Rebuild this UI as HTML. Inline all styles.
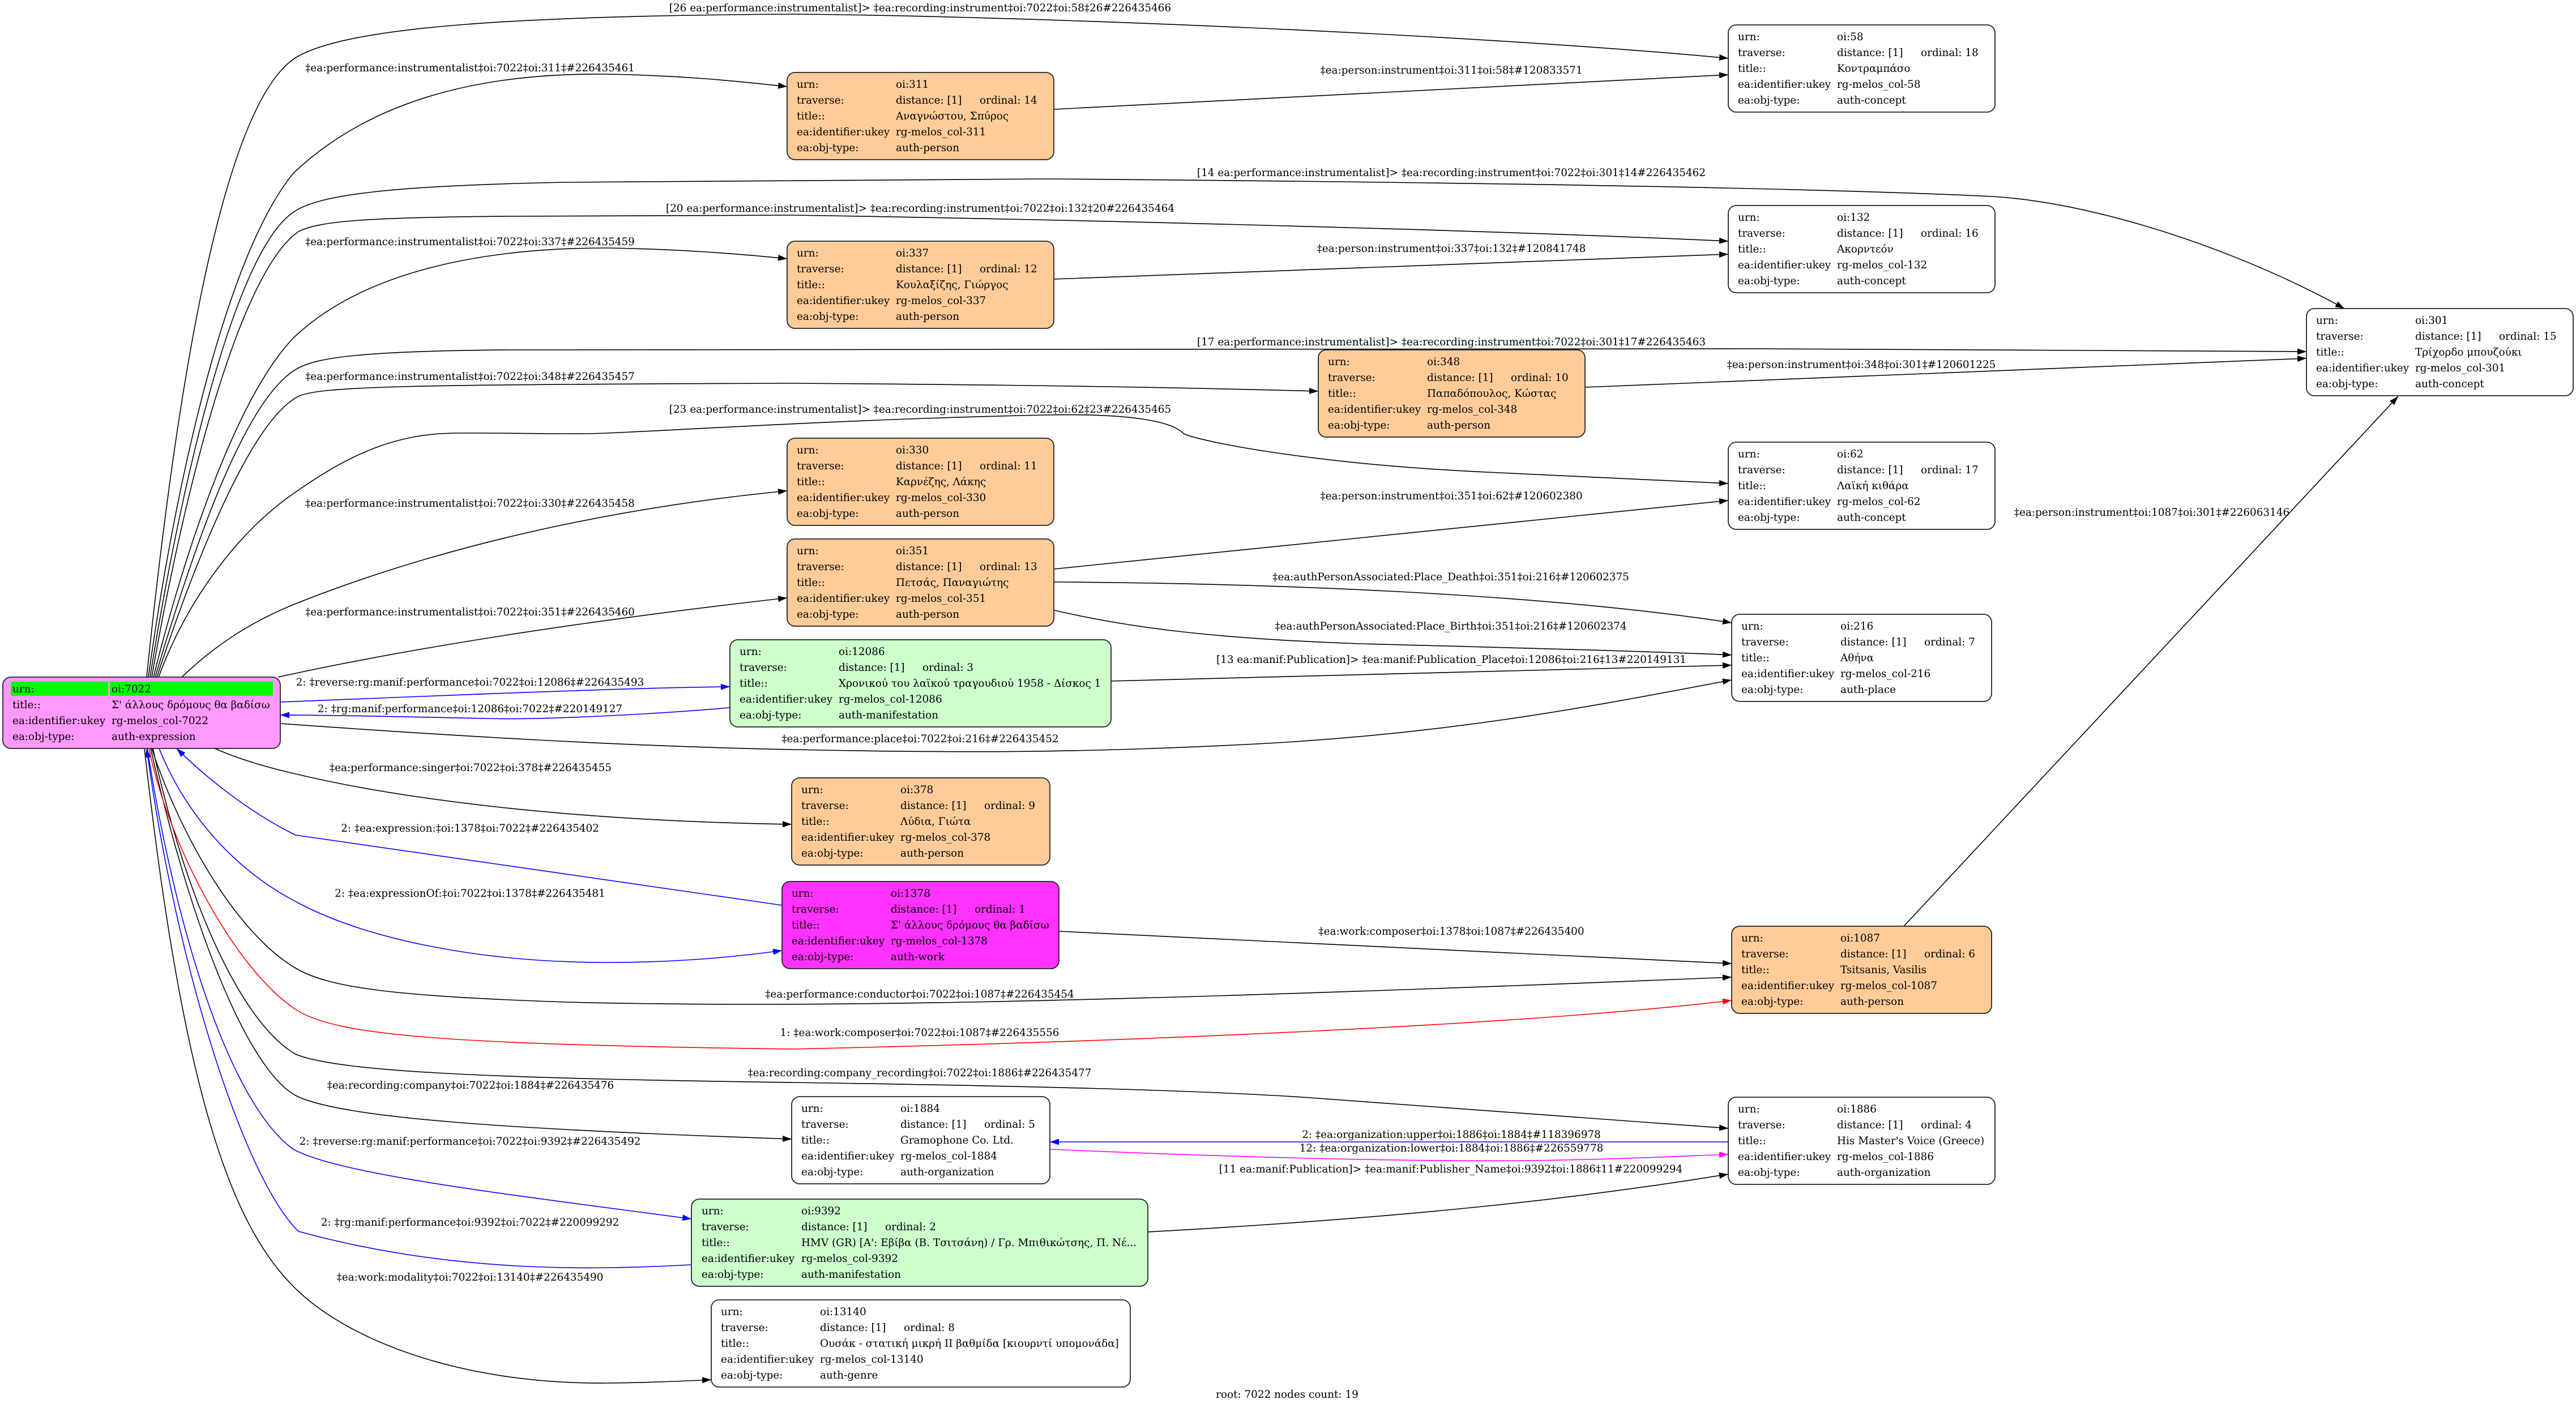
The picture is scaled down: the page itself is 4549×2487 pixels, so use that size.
<!DOCTYPE html>
<html>
<head>
<meta charset="utf-8">
<style>
html,body{margin:0;padding:0;background:#fff;}
svg{display:block;}
text{font-family:"DejaVu Serif","Liberation Serif","Noto Serif CJK SC",serif;font-size:18.4px;fill:#000;}
.el{text-anchor:middle;}
.e{fill:none;stroke:#000;stroke-width:1.6;}
.b{stroke:#0000ff;}
.r{stroke:#ff0000;}
.m{stroke:#ff00ff;}
.n{stroke:#222;stroke-width:1.8;}
</style>
</head>
<body>
<svg width="4549" height="2487" viewBox="0 0 4549 2487" xmlns="http://www.w3.org/2000/svg">
<defs>
<marker id="ak" markerWidth="17" markerHeight="12" refX="16" refY="6" orient="auto" markerUnits="userSpaceOnUse"><path d="M0,0.5 L16,6 L0,11.5 z" fill="#000"/></marker>
<marker id="ab" markerWidth="17" markerHeight="12" refX="16" refY="6" orient="auto" markerUnits="userSpaceOnUse"><path d="M0,0.5 L16,6 L0,11.5 z" fill="#0000ff"/></marker>
<marker id="ar" markerWidth="17" markerHeight="12" refX="16" refY="6" orient="auto" markerUnits="userSpaceOnUse"><path d="M0,0.5 L16,6 L0,11.5 z" fill="#ff0000"/></marker>
<marker id="am" markerWidth="17" markerHeight="12" refX="16" refY="6" orient="auto" markerUnits="userSpaceOnUse"><path d="M0,0.5 L16,6 L0,11.5 z" fill="#ff00ff"/></marker>
</defs>
<rect x="0" y="0" width="4549" height="2487" fill="#fff"/>

<!-- Edges: black -->
<g class="e" marker-end="url(#ak)">
<path class="e" d="M259,1196 C300,800 380,180 527,99 C620,48 900,28 1400,25 C1800,28 2600,60 3052,103"/>
<path class="e" d="M262,1196 C310,850 400,450 518,306 C640,190 820,128 1071,131 C1200,133 1300,143 1390,153"/>
<path class="e" d="M265,1196 C325,820 420,440 518,375 C560,345 680,328 1000,322 L1850,316 C2600,322 3200,332 3518,347 C3700,358 3950,440 4140,545"/>
<path class="e" d="M268,1196 C328,850 425,480 527,409 C565,390 650,384 900,382 L1400,380 C1850,387 2600,405 3052,426"/>
<path class="e" d="M271,1196 C330,960 420,700 518,597 C640,480 850,438 1071,438 C1200,440 1300,448 1390,457"/>
<path class="e" d="M274,1196 C335,990 430,700 527,650 C565,630 650,620 900,618 L3100,616 L4073,621"/>
<path class="e" d="M277,1196 C338,1010 440,745 527,700 C565,683 700,679 1400,677 C1850,680 2100,685 2328,691"/>
<path class="e" d="M280,1196 C330,1060 420,940 518,872 C620,800 700,766 804,765 C900,764 1000,768 1071,765 C1200,760 1500,740 1850,733 C2000,730 2070,745 2089,765 C2100,775 2300,820 2647,835 C2800,843 2950,850 3052,854"/>
<path class="e" d="M321,1196 C380,1140 440,1100 518,1068 C750,975 1050,900 1390,867"/>
<path class="e" d="M491,1196 C700,1150 1000,1100 1390,1056"/>
<path class="e" d="M1862,193 L3052,132"/>
<path class="e" d="M1862,493 L3052,449"/>
<path class="e" d="M2799,684 C3000,676 3500,656 4073,633"/>
<path class="e" d="M1862,1005 L3052,884"/>
<path class="e" d="M1862,1028 C2200,1030 2700,1045 3058,1100"/>
<path class="e" d="M1862,1078 C2000,1110 2150,1128 2400,1137 C2700,1145 2900,1150 3058,1157"/>
<path class="e" d="M1962,1203 L3058,1175"/>
<path class="e" d="M495,1278 C800,1300 1100,1318 1400,1324 C1700,1330 1900,1330 2200,1315 C2550,1298 2800,1250 3058,1201"/>
<path class="e" d="M1870,1645 L3058,1702"/>
<path class="e" d="M268,1322 C320,1480 420,1650 522,1710 C580,1745 700,1760 1000,1770 C1400,1780 1900,1773 3058,1726"/>
<path class="e" d="M270,1322 C330,1600 430,1810 522,1862 C600,1895 900,1905 1400,1912 C1800,1918 2100,1925 2300,1938 C2600,1960 2850,1980 3052,1993"/>
<path class="e" d="M266,1322 C340,1650 440,1890 522,1935 C600,1975 900,1995 1398,2012"/>
<path class="e" d="M255,1322 C320,1900 400,2150 513,2267 C600,2360 800,2445 1071,2443 C1150,2442 1200,2440 1256,2437"/>
<path class="e" d="M379,1322 C420,1340 470,1355 518,1366 C700,1410 1000,1450 1398,1456"/>
<path class="e" d="M2027,2176 C2500,2150 2800,2115 3052,2074"/>
<path class="e" d="M3361,1637 L4235,700"/>
</g>
<!-- Edges: blue -->
<g>
<path class="e b" marker-end="url(#ab)" d="M495,1240 C800,1228 1100,1215 1289,1213"/>
<path class="e b" marker-end="url(#ab)" d="M1289,1250 C1150,1262 950,1272 858,1269 C700,1266 600,1263 495,1263"/>
<path class="e b" marker-end="url(#ab)" d="M3052,2017 L1854,2017"/>
<path class="e b" marker-end="url(#ab)" d="M260,1322 C320,1700 420,1960 518,2030 C600,2075 900,2110 1221,2153"/>
<path class="e b" marker-end="url(#ab)" d="M1221,2234 C1050,2243 800,2250 527,2175 C430,2080 310,1700 259,1322"/>
<path class="e b" marker-end="url(#ab)" d="M1381,1599 L522,1475 C450,1440 370,1380 312,1322"/>
<path class="e b" marker-end="url(#ab)" d="M281,1322 C320,1420 400,1530 527,1595 C650,1660 850,1700 1071,1700 C1200,1700 1300,1690 1381,1679"/>
<path class="e r" marker-end="url(#ar)" d="M263,1322 C300,1500 420,1720 527,1786 C600,1830 800,1845 1400,1853 C2000,1840 2700,1810 3058,1767"/>
<path class="e m" marker-end="url(#am)" d="M1854,2030 C2200,2045 2500,2052 2700,2050 C2850,2048 2950,2043 3052,2039"/>
</g>

<!-- Edge labels -->
<g class="el">
<text class="el" x="1625" y="20">[26 ea:performance:instrumentalist]&gt; ‡ea:recording:instrument‡oi:7022‡oi:58‡26#226435466</text>
<text class="el" x="830" y="126">‡ea:performance:instrumentalist‡oi:7022‡oi:311‡#226435461</text>
<text class="el" x="2563" y="130">‡ea:person:instrument‡oi:311‡oi:58‡#120833571</text>
<text class="el" x="2563" y="311">[14 ea:performance:instrumentalist]&gt; ‡ea:recording:instrument‡oi:7022‡oi:301‡14#226435462</text>
<text class="el" x="1625" y="374">[20 ea:performance:instrumentalist]&gt; ‡ea:recording:instrument‡oi:7022‡oi:132‡20#226435464</text>
<text class="el" x="830" y="433">‡ea:performance:instrumentalist‡oi:7022‡oi:337‡#226435459</text>
<text class="el" x="2563" y="445">‡ea:person:instrument‡oi:337‡oi:132‡#120841748</text>
<text class="el" x="2563" y="610">[17 ea:performance:instrumentalist]&gt; ‡ea:recording:instrument‡oi:7022‡oi:301‡17#226435463</text>
<text class="el" x="3287" y="650">‡ea:person:instrument‡oi:348‡oi:301‡#120601225</text>
<text class="el" x="830" y="671">‡ea:performance:instrumentalist‡oi:7022‡oi:348‡#226435457</text>
<text class="el" x="1625" y="729">[23 ea:performance:instrumentalist]&gt; ‡ea:recording:instrument‡oi:7022‡oi:62‡23#226435465</text>
<text class="el" x="2563" y="882">‡ea:person:instrument‡oi:351‡oi:62‡#120602380</text>
<text class="el" x="830" y="895">‡ea:performance:instrumentalist‡oi:7022‡oi:330‡#226435458</text>
<text class="el" x="3800" y="911">‡ea:person:instrument‡oi:1087‡oi:301‡#226063146</text>
<text class="el" x="2562" y="1025">‡ea:authPersonAssociated:Place_Death‡oi:351‡oi:216‡#120602375</text>
<text class="el" x="830" y="1087">‡ea:performance:instrumentalist‡oi:7022‡oi:351‡#226435460</text>
<text class="el" x="2562" y="1112">‡ea:authPersonAssociated:Place_Birth‡oi:351‡oi:216‡#120602374</text>
<text class="el" x="2563" y="1171">[13 ea:manif:Publication]&gt; ‡ea:manif:Publication_Place‡oi:12086‡oi:216‡13#220149131</text>
<text class="el" x="830" y="1211">2: ‡reverse:rg:manif:performance‡oi:7022‡oi:12086‡#226435493</text>
<text class="el" x="830" y="1258">2: ‡rg:manif:performance‡oi:12086‡oi:7022‡#220149127</text>
<text class="el" x="1625" y="1311">‡ea:performance:place‡oi:7022‡oi:216‡#226435452</text>
<text class="el" x="831" y="1362">‡ea:performance:singer‡oi:7022‡oi:378‡#226435455</text>
<text class="el" x="830" y="1469">2: ‡ea:expression:‡oi:1378‡oi:7022‡#226435402</text>
<text class="el" x="830" y="1584">2: ‡ea:expressionOf:‡oi:7022‡oi:1378‡#226435481</text>
<text class="el" x="2563" y="1651">‡ea:work:composer‡oi:1378‡oi:1087‡#226435400</text>
<text class="el" x="1624" y="1762">‡ea:performance:conductor‡oi:7022‡oi:1087‡#226435454</text>
<text class="el" x="1624" y="1830">1: ‡ea:work:composer‡oi:7022‡oi:1087‡#226435556</text>
<text class="el" x="1624" y="1901">‡ea:recording:company_recording‡oi:7022‡oi:1886‡#226435477</text>
<text class="el" x="831" y="1923">‡ea:recording:company‡oi:7022‡oi:1884‡#226435476</text>
<text class="el" x="2563" y="2010">2: ‡ea:organization:upper‡oi:1886‡oi:1884‡#118396978</text>
<text class="el" x="830" y="2022">2: ‡reverse:rg:manif:performance‡oi:7022‡oi:9392‡#226435492</text>
<text class="el" x="2563" y="2034">12: ‡ea:organization:lower‡oi:1884‡oi:1886‡#226559778</text>
<text class="el" x="2562" y="2071">[11 ea:manif:Publication]&gt; ‡ea:manif:Publisher_Name‡oi:9392‡oi:1886‡11#220099294</text>
<text class="el" x="830" y="2165">2: ‡rg:manif:performance‡oi:9392‡oi:7022‡#220099292</text>
<text class="el" x="830" y="2262">‡ea:work:modality‡oi:7022‡oi:13140‡#226435490</text>
<text class="el" x="2273" y="2469">root: 7022 nodes count: 19</text>
</g>

<!-- Nodes -->
<g transform="translate(3052,44)"><rect class="n" x="0" y="0" width="471" height="154" rx="14" fill="#ffffff"/>
<text x="17" y="27">urn:</text><text x="192" y="27">oi:58</text>
<text x="17" y="55">traverse:</text><text x="192" y="55">distance: [1]</text><text x="340" y="55">ordinal: 18</text>
<text x="17" y="83">title::</text><text x="192" y="83">Κοντραμπάσο</text>
<text x="17" y="111">ea:identifier:ukey</text><text x="192" y="111">rg-melos_col-58</text>
<text x="17" y="139">ea:obj-type:</text><text x="192" y="139">auth-concept</text></g>

<g transform="translate(1390,128)"><rect class="n" x="0" y="0" width="471" height="154" rx="14" fill="#ffcc99"/>
<text x="17" y="27">urn:</text><text x="192" y="27">oi:311</text>
<text x="17" y="55">traverse:</text><text x="192" y="55">distance: [1]</text><text x="340" y="55">ordinal: 14</text>
<text x="17" y="83">title::</text><text x="192" y="83">Αναγνώστου, Σπύρος</text>
<text x="17" y="111">ea:identifier:ukey</text><text x="192" y="111">rg-melos_col-311</text>
<text x="17" y="139">ea:obj-type:</text><text x="192" y="139">auth-person</text></g>

<g transform="translate(3052,363)"><rect class="n" x="0" y="0" width="471" height="154" rx="14" fill="#ffffff"/>
<text x="17" y="27">urn:</text><text x="192" y="27">oi:132</text>
<text x="17" y="55">traverse:</text><text x="192" y="55">distance: [1]</text><text x="340" y="55">ordinal: 16</text>
<text x="17" y="83">title::</text><text x="192" y="83">Ακορντεόν</text>
<text x="17" y="111">ea:identifier:ukey</text><text x="192" y="111">rg-melos_col-132</text>
<text x="17" y="139">ea:obj-type:</text><text x="192" y="139">auth-concept</text></g>

<g transform="translate(1390,426)"><rect class="n" x="0" y="0" width="471" height="154" rx="14" fill="#ffcc99"/>
<text x="17" y="27">urn:</text><text x="192" y="27">oi:337</text>
<text x="17" y="55">traverse:</text><text x="192" y="55">distance: [1]</text><text x="340" y="55">ordinal: 12</text>
<text x="17" y="83">title::</text><text x="192" y="83">Κουλαξίζης, Γιώργος</text>
<text x="17" y="111">ea:identifier:ukey</text><text x="192" y="111">rg-melos_col-337</text>
<text x="17" y="139">ea:obj-type:</text><text x="192" y="139">auth-person</text></g>

<g transform="translate(4073,545)"><rect class="n" x="0" y="0" width="471" height="154" rx="14" fill="#ffffff"/>
<text x="17" y="27">urn:</text><text x="192" y="27">oi:301</text>
<text x="17" y="55">traverse:</text><text x="192" y="55">distance: [1]</text><text x="340" y="55">ordinal: 15</text>
<text x="17" y="83">title::</text><text x="192" y="83">Τρίχορδο μπουζούκι</text>
<text x="17" y="111">ea:identifier:ukey</text><text x="192" y="111">rg-melos_col-301</text>
<text x="17" y="139">ea:obj-type:</text><text x="192" y="139">auth-concept</text></g>

<g transform="translate(2328,618)"><rect class="n" x="0" y="0" width="471" height="154" rx="14" fill="#ffcc99"/>
<text x="17" y="27">urn:</text><text x="192" y="27">oi:348</text>
<text x="17" y="55">traverse:</text><text x="192" y="55">distance: [1]</text><text x="340" y="55">ordinal: 10</text>
<text x="17" y="83">title::</text><text x="192" y="83">Παπαδόπουλος, Κώστας</text>
<text x="17" y="111">ea:identifier:ukey</text><text x="192" y="111">rg-melos_col-348</text>
<text x="17" y="139">ea:obj-type:</text><text x="192" y="139">auth-person</text></g>

<g transform="translate(3052,781)"><rect class="n" x="0" y="0" width="471" height="154" rx="14" fill="#ffffff"/>
<text x="17" y="27">urn:</text><text x="192" y="27">oi:62</text>
<text x="17" y="55">traverse:</text><text x="192" y="55">distance: [1]</text><text x="340" y="55">ordinal: 17</text>
<text x="17" y="83">title::</text><text x="192" y="83">Λαϊκή κιθάρα</text>
<text x="17" y="111">ea:identifier:ukey</text><text x="192" y="111">rg-melos_col-62</text>
<text x="17" y="139">ea:obj-type:</text><text x="192" y="139">auth-concept</text></g>

<g transform="translate(1390,774)"><rect class="n" x="0" y="0" width="471" height="154" rx="14" fill="#ffcc99"/>
<text x="17" y="27">urn:</text><text x="192" y="27">oi:330</text>
<text x="17" y="55">traverse:</text><text x="192" y="55">distance: [1]</text><text x="340" y="55">ordinal: 11</text>
<text x="17" y="83">title::</text><text x="192" y="83">Καρνέζης, Λάκης</text>
<text x="17" y="111">ea:identifier:ukey</text><text x="192" y="111">rg-melos_col-330</text>
<text x="17" y="139">ea:obj-type:</text><text x="192" y="139">auth-person</text></g>

<g transform="translate(1390,952)"><rect class="n" x="0" y="0" width="471" height="154" rx="14" fill="#ffcc99"/>
<text x="17" y="27">urn:</text><text x="192" y="27">oi:351</text>
<text x="17" y="55">traverse:</text><text x="192" y="55">distance: [1]</text><text x="340" y="55">ordinal: 13</text>
<text x="17" y="83">title::</text><text x="192" y="83">Πετσάς, Παναγιώτης</text>
<text x="17" y="111">ea:identifier:ukey</text><text x="192" y="111">rg-melos_col-351</text>
<text x="17" y="139">ea:obj-type:</text><text x="192" y="139">auth-person</text></g>

<g transform="translate(3058,1085)"><rect class="n" x="0" y="0" width="459" height="154" rx="14" fill="#ffffff"/>
<text x="17" y="27">urn:</text><text x="192" y="27">oi:216</text>
<text x="17" y="55">traverse:</text><text x="192" y="55">distance: [1]</text><text x="340" y="55">ordinal: 7</text>
<text x="17" y="83">title::</text><text x="192" y="83">Αθήνα</text>
<text x="17" y="111">ea:identifier:ukey</text><text x="192" y="111">rg-melos_col-216</text>
<text x="17" y="139">ea:obj-type:</text><text x="192" y="139">auth-place</text></g>

<g transform="translate(1289,1130)"><rect class="n" x="0" y="0" width="673" height="154" rx="14" fill="#ccffcc"/>
<text x="17" y="27">urn:</text><text x="192" y="27">oi:12086</text>
<text x="17" y="55">traverse:</text><text x="192" y="55">distance: [1]</text><text x="340" y="55">ordinal: 3</text>
<text x="17" y="83">title::</text><text x="192" y="83">Χρονικού του λαϊκού τραγουδιού 1958 - Δίσκος 1</text>
<text x="17" y="111">ea:identifier:ukey</text><text x="192" y="111">rg-melos_col-12086</text>
<text x="17" y="139">ea:obj-type:</text><text x="192" y="139">auth-manifestation</text></g>

<g transform="translate(5,1196)"><rect class="n" x="0" y="0" width="490" height="126" rx="14" fill="#ff99ff"/>
<rect x="14" y="8" width="172" height="25" fill="#00ff00"/><rect x="189" y="8" width="288" height="25" fill="#00ff00"/>
<text x="17" y="27">urn:</text><text x="192" y="27">oi:7022</text>
<text x="17" y="55">title::</text><text x="192" y="55">Σ' άλλους δρόμους θα βαδίσω</text>
<text x="17" y="83">ea:identifier:ukey</text><text x="192" y="83">rg-melos_col-7022</text>
<text x="17" y="111">ea:obj-type:</text><text x="192" y="111">auth-expression</text></g>

<g transform="translate(1398,1374)"><rect class="n" x="0" y="0" width="456" height="154" rx="14" fill="#ffcc99"/>
<text x="17" y="27">urn:</text><text x="192" y="27">oi:378</text>
<text x="17" y="55">traverse:</text><text x="192" y="55">distance: [1]</text><text x="340" y="55">ordinal: 9</text>
<text x="17" y="83">title::</text><text x="192" y="83">Λύδια, Γιώτα</text>
<text x="17" y="111">ea:identifier:ukey</text><text x="192" y="111">rg-melos_col-378</text>
<text x="17" y="139">ea:obj-type:</text><text x="192" y="139">auth-person</text></g>

<g transform="translate(1381,1557)"><rect class="n" x="0" y="0" width="489" height="154" rx="14" fill="#ff33ff"/>
<text x="17" y="27">urn:</text><text x="192" y="27">oi:1378</text>
<text x="17" y="55">traverse:</text><text x="192" y="55">distance: [1]</text><text x="340" y="55">ordinal: 1</text>
<text x="17" y="83">title::</text><text x="192" y="83">Σ' άλλους δρόμους θα βαδίσω</text>
<text x="17" y="111">ea:identifier:ukey</text><text x="192" y="111">rg-melos_col-1378</text>
<text x="17" y="139">ea:obj-type:</text><text x="192" y="139">auth-work</text></g>

<g transform="translate(3058,1636)"><rect class="n" x="0" y="0" width="459" height="154" rx="14" fill="#ffcc99"/>
<text x="17" y="27">urn:</text><text x="192" y="27">oi:1087</text>
<text x="17" y="55">traverse:</text><text x="192" y="55">distance: [1]</text><text x="340" y="55">ordinal: 6</text>
<text x="17" y="83">title::</text><text x="192" y="83">Tsitsanis, Vasilis</text>
<text x="17" y="111">ea:identifier:ukey</text><text x="192" y="111">rg-melos_col-1087</text>
<text x="17" y="139">ea:obj-type:</text><text x="192" y="139">auth-person</text></g>

<g transform="translate(1398,1937)"><rect class="n" x="0" y="0" width="456" height="154" rx="14" fill="#ffffff"/>
<text x="17" y="27">urn:</text><text x="192" y="27">oi:1884</text>
<text x="17" y="55">traverse:</text><text x="192" y="55">distance: [1]</text><text x="340" y="55">ordinal: 5</text>
<text x="17" y="83">title::</text><text x="192" y="83">Gramophone Co. Ltd.</text>
<text x="17" y="111">ea:identifier:ukey</text><text x="192" y="111">rg-melos_col-1884</text>
<text x="17" y="139">ea:obj-type:</text><text x="192" y="139">auth-organization</text></g>

<g transform="translate(3052,1938)"><rect class="n" x="0" y="0" width="471" height="154" rx="14" fill="#ffffff"/>
<text x="17" y="27">urn:</text><text x="192" y="27">oi:1886</text>
<text x="17" y="55">traverse:</text><text x="192" y="55">distance: [1]</text><text x="340" y="55">ordinal: 4</text>
<text x="17" y="83">title::</text><text x="192" y="83">His Master's Voice (Greece)</text>
<text x="17" y="111">ea:identifier:ukey</text><text x="192" y="111">rg-melos_col-1886</text>
<text x="17" y="139">ea:obj-type:</text><text x="192" y="139">auth-organization</text></g>

<g transform="translate(1221,2118)"><rect class="n" x="0" y="0" width="806" height="154" rx="14" fill="#ccffcc"/>
<text x="18" y="27">urn:</text><text x="194" y="27">oi:9392</text>
<text x="18" y="55">traverse:</text><text x="194" y="55">distance: [1]</text><text x="342" y="55">ordinal: 2</text>
<text x="18" y="83">title::</text><text x="194" y="83">HMV (GR) [A': Εβίβα (Β. Τσιτσάνη) / Γρ. Μπιθικώτσης, Π. Νέ...</text>
<text x="18" y="111">ea:identifier:ukey</text><text x="194" y="111">rg-melos_col-9392</text>
<text x="18" y="139">ea:obj-type:</text><text x="194" y="139">auth-manifestation</text></g>

<g transform="translate(1256,2296)"><rect class="n" x="0" y="0" width="740" height="154" rx="14" fill="#ffffff"/>
<text x="17" y="27">urn:</text><text x="192" y="27">oi:13140</text>
<text x="17" y="55">traverse:</text><text x="192" y="55">distance: [1]</text><text x="340" y="55">ordinal: 8</text>
<text x="17" y="83">title::</text><text x="192" y="83">Ουσάκ - στατική μικρή ΙΙ βαθμίδα [κιουρντί υπομονάδα]</text>
<text x="17" y="111">ea:identifier:ukey</text><text x="192" y="111">rg-melos_col-13140</text>
<text x="17" y="139">ea:obj-type:</text><text x="192" y="139">auth-genre</text></g>
</svg>
</body>
</html>
